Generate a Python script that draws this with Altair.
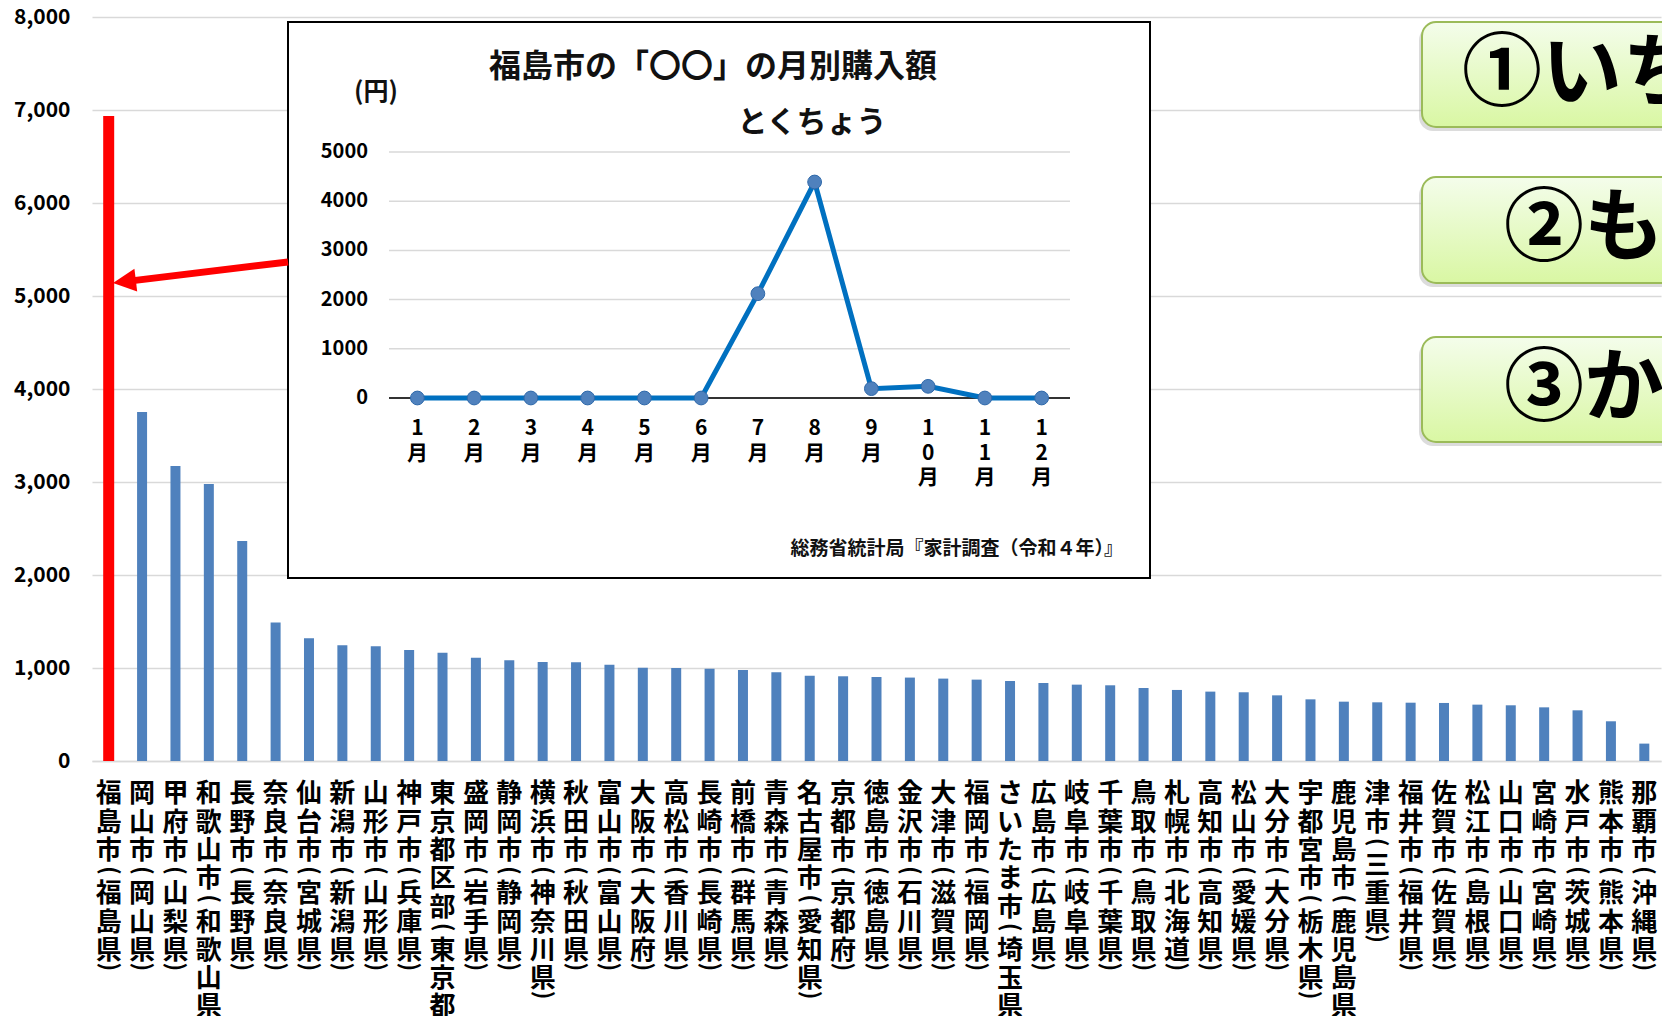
import altair as alt
import pandas as pd

# ---------------- data ----------------
cities = ["福島市（福島県）", "岡山市（岡山県）", "甲府市（山梨県）", "和歌山市（和歌山県）", "長野市（長野県）",
          "奈良市（奈良県）", "仙台市（宮城県）", "新潟市（新潟県）", "山形市（山形県）", "神戸市（兵庫県）",
          "東京都区部（東京都）", "盛岡市（岩手県）", "静岡市（静岡県）", "横浜市（神奈川県）", "秋田市（秋田県）",
          "富山市（富山県）", "大阪市（大阪府）", "高松市（香川県）", "長崎市（長崎県）", "前橋市（群馬県）",
          "青森市（青森県）", "名古屋市（愛知県）", "京都市（京都府）", "徳島市（徳島県）", "金沢市（石川県）",
          "大津市（滋賀県）", "福岡市（福岡県）", "さいたま市（埼玉県）", "広島市（広島県）", "岐阜市（岐阜県）",
          "千葉市（千葉県）", "鳥取市（鳥取県）", "札幌市（北海道）", "高知市（高知県）", "松山市（愛媛県）",
          "大分市（大分県）", "宇都宮市（栃木県）", "鹿児島市（鹿児島県）", "津市（三重県）", "福井市（福井県）",
          "佐賀市（佐賀県）", "松江市（島根県）", "山口市（山口県）", "宮崎市（宮崎県）", "水戸市（茨城県）",
          "熊本市（熊本県）", "那覇市（沖縄県）"]
amounts = [6935, 3753, 3172, 2978, 2366, 1488, 1319, 1244, 1233, 1194, 1165, 1111, 1083, 1065, 1061,
           1036, 1004, 1000, 993, 979, 954, 918, 911, 903, 897, 886, 875, 860, 839, 821, 814, 785,
           764, 746, 739, 706, 663, 638, 631, 627, 624, 606, 599, 577, 545, 427, 187]
main_ticks = [0, 1000, 2000, 3000, 4000, 5000, 6000, 7000, 8000]

months = ["1月", "2月", "3月", "4月", "5月", "6月", "7月", "8月", "9月", "10月", "11月", "12月"]
monthly = [0, 0, 0, 0, 0, 0, 2120, 4390, 190, 237, 0, 0]
inset_ticks = [0, 1000, 2000, 3000, 4000, 5000]

inset_title = "福島市の「〇〇」の月別購入額"
inset_unit = "(円)"
inset_sub = "とくちょう"
inset_source = "総務省統計局『家計調査（令和４年）』"
questions = ["①いち", "②も", "③か"]

# ---------------- layout ----------------
W, H = 1569, 744
FONT = "Noto Sans CJK JP"
one = pd.DataFrame({"k": [0]})

df = pd.DataFrame({"city": cities, "amount": amounts})
is_hl = alt.datum.city == cities[0]
xband = alt.Scale(paddingInner=0, paddingOuter=0)

bars = alt.Chart(df).mark_bar().encode(
    x=alt.X("city:N", sort=cities, scale=xband,
            axis=alt.Axis(title=None, labels=False, ticks=False,
                          domainColor="#D9D9D9", domainWidth=1.5, grid=False)),
    y=alt.Y("amount:Q", scale=alt.Scale(domain=[0, 8000], nice=False),
            axis=alt.Axis(title=None, values=main_ticks, format=",d",
                          labelFont=FONT, labelFontSize=21, labelFontWeight="bold",
                          labelColor="black", labelPadding=22, ticks=False, domain=False,
                          gridColor="#D9D9D9", gridWidth=1.5)),
    color=alt.condition(is_hl, alt.value("#FF0000"), alt.value("#4F81BD")),
    size=alt.condition(is_hl, alt.value(11), alt.value(10)),
)

# vertical category labels: city part, "(", prefecture part, ")"
LF = 26               # label font size
P = 28.3              # character pitch
YC = 775              # centre of first glyph, px below plot top
Y0 = YC - 0.41 * LF   # top of first text line
labs_base = alt.Chart(df).transform_calculate(
    n1="indexof(datum.city, '（')",
).transform_calculate(
    n2="length(datum.city) - datum.n1 - 2",
    city_txt="join(split(substring(datum.city, 0, datum.n1), ''), '\\n')",
    pref_txt="join(split(substring(datum.city, datum.n1 + 1, length(datum.city) - 1), ''), '\\n')",
).transform_calculate(
    y_city=f"{Y0}",
    y_pref=f"{Y0} + (datum.n1 - 1 + 1.53) * {P}",
    y_open=f"{YC} + (datum.n1 - 1 + 0.77) * {P}",
    y_close=f"{YC} + (datum.n1 - 1 + 1.53 + datum.n2 - 1 + 0.65) * {P}",
)
label_layers = []
for part in ["city", "pref"]:
    label_layers.append(labs_base.mark_text(
        lineBreak="\n", lineHeight=P, baseline="top", align="center", font=FONT,
        fontSize=LF, fontWeight="bold", color="black").encode(
        x=alt.X("city:N", sort=cities, scale=xband, axis=None),
        y=alt.Y(f"y_{part}:Q", scale=None),
        text=f"{part}_txt:N"))
for part, ch in [("open", "("), ("close", ")")]:
    label_layers.append(labs_base.mark_text(
        text=ch, angle=90, baseline="middle", align="center", font=FONT,
        fontSize=23, fontWeight="bold", color="black").encode(
        x=alt.X("city:N", sort=cities, scale=xband, axis=None),
        y=alt.Y(f"y_{part}:Q", scale=None)))

# ---------------- inset ----------------
iy = alt.Scale(domain=[0, 5000], range=[381, 135], nice=False, zero=False)
ix = alt.Scale(type="point", domain=months, range=[297, 978], padding=0.5)

box = alt.Chart(one).mark_rect(fill="white", stroke="black", strokeWidth=2).encode(
    x=alt.value(196), x2=alt.value(1058), y=alt.value(5), y2=alt.value(561))

gdf = pd.DataFrame({"v": inset_ticks})
grid = alt.Chart(gdf).mark_rule().encode(
    y=alt.Y("v:Q", scale=iy, axis=None),
    x=alt.value(297), x2=alt.value(978),
    color=alt.condition("datum.v == 0", alt.value("#333333"), alt.value("#D9D9D9")),
    strokeWidth=alt.condition("datum.v == 0", alt.value(2), alt.value(1.5)),
)

mdf = pd.DataFrame({"month": months, "yen": monthly})
line = alt.Chart(mdf).mark_line(color="#0070C0", strokeWidth=5).encode(
    x=alt.X("month:N", scale=ix, sort=months, axis=None),
    y=alt.Y("yen:Q", scale=iy, axis=None))
pts = alt.Chart(mdf).mark_circle(size=190, color="#4F81BD", stroke="#2F69AA",
                                 strokeWidth=1, opacity=1).encode(
    x=alt.X("month:N", scale=ix, sort=months, axis=None),
    y=alt.Y("yen:Q", scale=iy, axis=None))

iylab = alt.Chart(gdf).mark_text(align="right", baseline="middle", font=FONT,
                                 fontSize=20, fontWeight="bold", color="black").encode(
    y=alt.Y("v:Q", scale=iy, axis=None), x=alt.value(276),
    text=alt.Text("v:Q", format="d"))

ixlab = alt.Chart(mdf).transform_calculate(
    lbl="join(split(datum.month, ''), '\\n')"
).mark_text(lineBreak="\n", baseline="top", align="center", font=FONT, fontSize=21,
            fontWeight="bold", lineHeight=24.5, color="black").encode(
    x=alt.X("month:N", scale=ix, sort=months, axis=None),
    y=alt.value(401), text="lbl:N")


def label(txt, x, y, size, align="center"):
    return alt.Chart(one).mark_text(text=txt, font=FONT, fontSize=size, fontWeight="bold",
                                    align=align, baseline="middle", color="#111111").encode(
        x=alt.value(x), y=alt.value(y))


t_title = label(inset_title, 621, 50, 32)
t_unit = label(inset_unit, 284, 75, 25)
t_sub = label(inset_sub, 720, 106, 30)
t_src = label(inset_source, 1031, 532, 19, align="right")

# ---------------- arrow ----------------
arrow = alt.Chart(one).mark_rule(color="#FF0000", strokeWidth=7).encode(
    x=alt.value(196), y=alt.value(245), x2=alt.value(33), y2=alt.value(264.6))
head = alt.Chart(one).mark_point(shape="M -1 0 L 1 -1 L 1 1 Z", size=529, filled=True,
                                 color="#FF0000", opacity=1, angle=353).encode(
    x=alt.value(32.4), y=alt.value(264.6))

# ---------------- question boxes ----------------
grad = alt.Gradient(gradient="linear", x1=0, y1=0, x2=0, y2=1,
                    stops=[alt.GradientStop(color="#F4FDEB", offset=0),
                           alt.GradientStop(color="#D9F7A3", offset=1)])
qlayers = []
for q, (y0, y1, tx) in zip(questions, [(5, 110, 1370), (160, 266, 1412), (320, 425, 1412)]):
    qlayers.append(alt.Chart(one).mark_rect(cornerRadius=14, fill="#9a9a9a", opacity=0.35).encode(
        x=alt.value(1327), x2=alt.value(1640), y=alt.value(y0 + 4), y2=alt.value(y1 + 4)))
    qlayers.append(alt.Chart(one).mark_rect(cornerRadius=14, fill=grad, stroke="#9BBB59",
                                            strokeWidth=2).encode(
        x=alt.value(1330), x2=alt.value(1640), y=alt.value(y0), y2=alt.value(y1)))
    qlayers.append(alt.Chart(one).mark_text(text=q, font=FONT, fontSize=80, fontWeight="bold",
                                            align="left", baseline="middle", color="black").encode(
        x=alt.value(tx), y=alt.value((y0 + y1) / 2)))

chart = alt.layer(
    bars, *label_layers, box, grid, line, pts, iylab, ixlab, t_title, t_unit, t_sub, t_src,
    arrow, head, *qlayers
).resolve_scale(
    x="independent", y="independent"
).properties(
    width=W, height=H,
    padding={"left": 84, "top": 9, "right": 1, "bottom": 255},
    autosize=alt.AutoSizeParams(type="none"),
    background="white",
).configure_view(stroke=None)

chart.save("out.html", embed_options={"renderer": "svg", "actions": False})
